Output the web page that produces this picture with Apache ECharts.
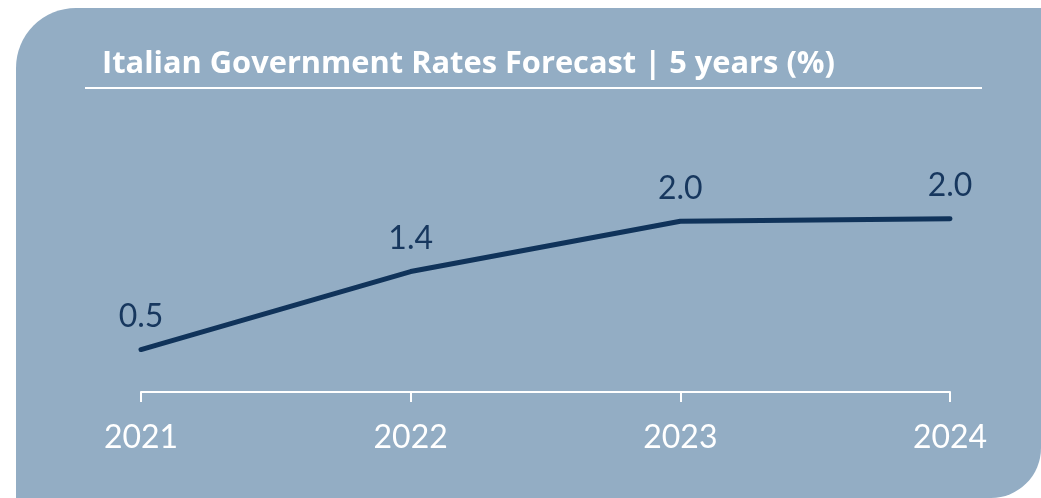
<!DOCTYPE html>
<html>
<head>
<meta charset="utf-8">
<script src="https://cdn.jsdelivr.net/npm/echarts@6/dist/echarts.min.js"></script>
<style>
html,body{margin:0;padding:0;background:#fff;}
#chart{width:1041px;height:498px;}
</style>
</head>
<body>
<div id="chart"></div>
<script>
const titleText = 'Italian Government Rates Forecast | 5 years (%)';
const years = ['2021', '2022', '2023', '2024'];
const rates = [0.49, 1.39, 1.97, 2.0];

const chart = echarts.init(document.getElementById('chart'), null, {renderer: 'canvas'});
chart.setOption({
  backgroundColor: '#ffffff',
  animation: false,
  graphic: [
    {type: 'rect', z: -10, shape: {x: 16, y: 8, width: 1025, height: 490, r: [60, 0, 50, 0]}, style: {fill: '#93adc4'}},
    {type: 'line', z: 5, shape: {x1: 85, y1: 88, x2: 982, y2: 88}, style: {stroke: '#ffffff', lineWidth: 2}}
  ],
  title: {
    text: titleText,
    left: 97, top: 44,
    textStyle: {color: '#ffffff', fontFamily: 'Open Sans', fontWeight: 'bold', fontSize: 30.8}
  },
  grid: {left: 141, right: 91, top: 132, bottom: 106},
  xAxis: {
    type: 'category', data: years, boundaryGap: false,
    axisLine: {lineStyle: {color: '#ffffff', width: 2}},
    axisTick: {show: true, length: 10, lineStyle: {color: '#ffffff', width: 2}},
    axisLabel: {color: '#ffffff', fontFamily: 'Lato', fontSize: 32, margin: 30}
  },
  yAxis: {type: 'value', min: 0, max: 3, show: false, splitLine: {show: false}},
  series: [{
    type: 'line', data: rates, symbol: 'circle', symbolSize: 1, showSymbol: true,
    itemStyle: {color: '#10335a'},
    lineStyle: {color: '#10335a', width: 5, cap: 'round', join: 'round'},
    label: {show: true, position: 'top', distance: 16, color: '#17375e', fontFamily: 'Lato', fontSize: 32,
      formatter: p => p.value.toFixed(1)}
  }]
});
</script>
</body>
</html>
